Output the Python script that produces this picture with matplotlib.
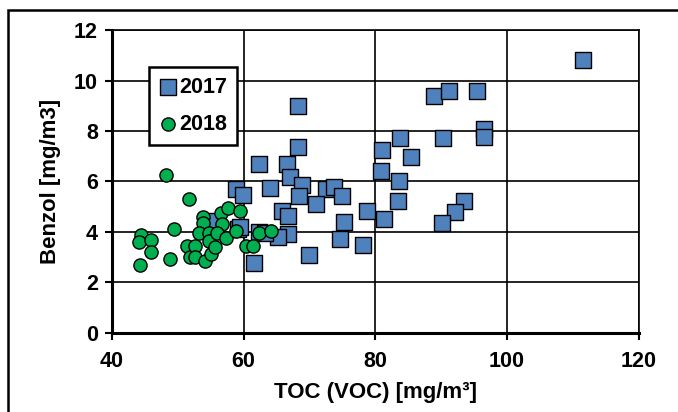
import matplotlib
matplotlib.use("Agg")
import matplotlib.pyplot as plt
from matplotlib.patches import Rectangle

plt.rcParams['font.family'] = ['Liberation Sans', 'DejaVu Sans']

# 2017 (blue squares)
toc_2017 = [111.6, 88.9, 91.2, 95.4, 68.3, 96.5, 96.5, 90.3, 83.8, 68.2, 81.0,
            85.5, 62.3, 66.6, 80.9, 67.1, 68.8, 83.6, 58.8, 59.9, 64.0, 72.5,
            73.7, 68.4, 74.9, 71.0, 83.4, 93.4, 92.1, 65.8, 66.8, 78.7, 75.3,
            81.3, 90.2, 66.7, 65.2, 62.4, 63.2, 74.7, 78.1, 70.0, 61.6, 59.1,
            55.6, 59.4]
benzol_2017 = [10.81, 9.40, 9.60, 9.60, 9.00, 8.07, 7.75, 7.72, 7.72, 7.38, 7.25,
               6.96, 6.69, 6.70, 6.43, 6.17, 5.87, 6.00, 5.70, 5.47, 5.74, 5.70,
               5.80, 5.43, 5.43, 5.12, 5.21, 5.21, 4.79, 4.85, 4.65, 4.84, 4.40,
               4.53, 4.34, 3.93, 3.80, 4.00, 3.96, 3.74, 3.50, 3.10, 2.77, 4.10,
               4.42, 4.20]

# 2018 (green circles)
toc_2018 = [48.2, 51.7, 44.4, 44.1, 45.9, 46.0, 44.2, 49.5, 48.9, 51.4, 51.8,
            52.6, 52.6, 54.1, 53.8, 53.9, 53.3, 54.7, 54.8, 55.1, 55.6, 56.5,
            57.6, 56.8, 55.9, 57.4, 58.9, 59.4, 60.4, 61.5, 62.3, 64.2]
benzol_2018 = [6.26, 5.32, 3.88, 3.62, 3.69, 3.19, 2.68, 4.12, 2.94, 3.43, 3.02,
               3.43, 3.02, 2.84, 4.58, 4.37, 3.96, 3.96, 3.66, 3.13, 3.41, 4.75,
               4.96, 4.30, 3.97, 3.77, 4.05, 4.85, 3.45, 3.45, 3.95, 4.03]

x_ticks = [40, 60, 80, 100, 120]
y_ticks = [0, 2, 4, 6, 8, 10, 12]

fig = plt.figure(figsize=(6.78, 4.12), dpi=100)
ax = fig.add_axes([0.165, 0.192, 0.777, 0.735])

ax.scatter(toc_2017, benzol_2017, marker='s', s=11**2, c='#4F81BD',
           edgecolors='black', linewidths=1.0, label='2017', zorder=3)
ax.scatter(toc_2018, benzol_2018, marker='o', s=9.5**2, c='#00B050',
           edgecolors='black', linewidths=1.0, label='2018', zorder=4)

ax.set_xlim(40, 120)
ax.set_ylim(0, 12)
ax.set_xticks(x_ticks)
ax.set_yticks(y_ticks)
ax.grid(True, color='black', linewidth=1.2, zorder=0)
ax.set_axisbelow(True)
for side in ['left', 'bottom']:
    ax.spines[side].set_linewidth(2.2)
for side in ['right', 'top']:
    ax.spines[side].set_linewidth(1.2)
ax.tick_params(axis='both', direction='out', length=5, width=1.5,
               labelsize=15.5)
ax.tick_params(axis='x', pad=8)
ax.tick_params(axis='y', pad=5)
for lab in ax.get_xticklabels() + ax.get_yticklabels():
    lab.set_fontweight('bold')

ax.set_xlabel('TOC (VOC) [mg/m\u00b3]', fontsize=16, fontweight='bold', labelpad=7)
ax.set_ylabel('Benzol [mg/m3]', fontsize=16, fontweight='bold', labelpad=9)

leg = ax.legend(loc='upper left', bbox_to_anchor=(0.07, 0.878), frameon=True,
                fancybox=False, edgecolor='black', framealpha=1,
                prop={'weight': 'bold', 'size': 15.5}, handletextpad=0.05,
                handlelength=0.9, borderpad=0.45, labelspacing=0.75,
                borderaxespad=0)
leg.get_frame().set_linewidth(1.8)

fig.patches.append(Rectangle((0.012, -0.05), 1.05, 1.026, transform=fig.transFigure,
                             fill=False, edgecolor='black', linewidth=1.8))

fig.savefig('out.png', dpi=100)
